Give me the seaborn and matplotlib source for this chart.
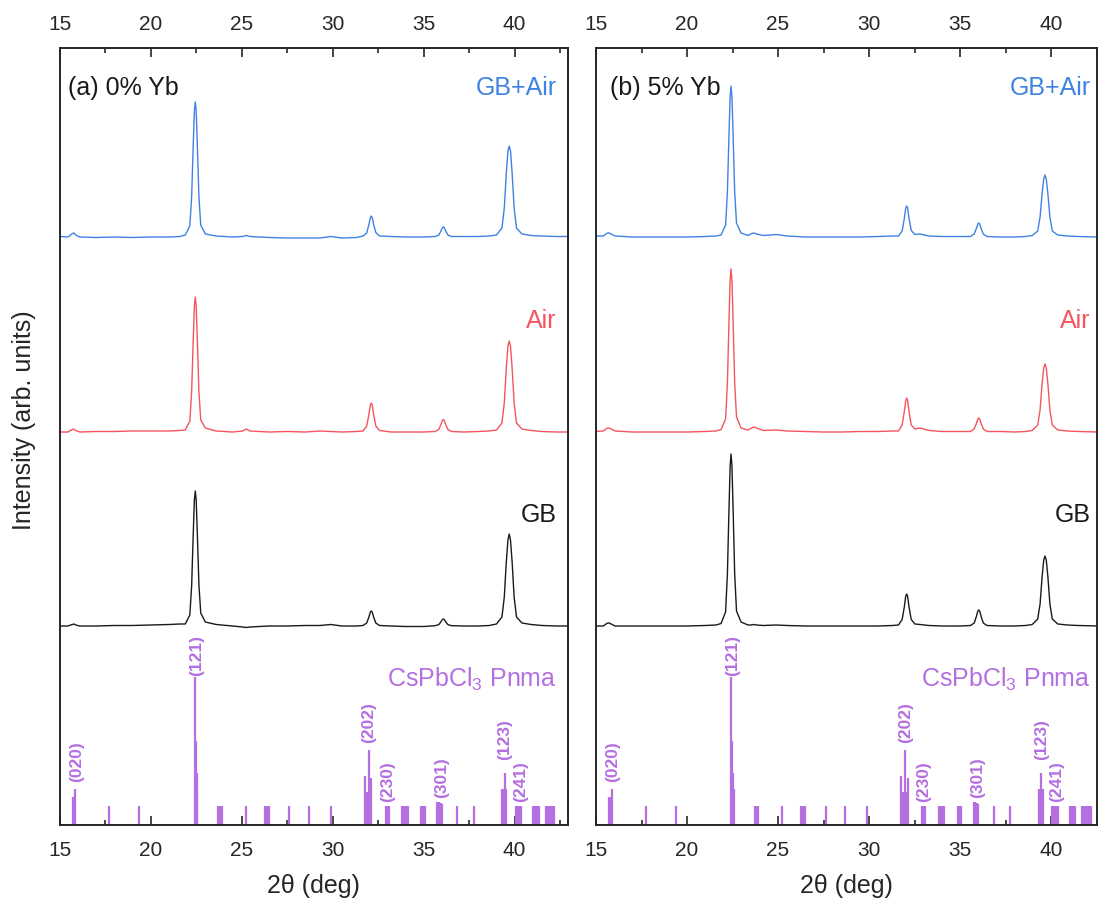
import matplotlib
matplotlib.use("Agg")
import matplotlib.pyplot as plt
from matplotlib.ticker import MultipleLocator
import seaborn as sns
import pandas as pd

# ----------------------------
# Data (intensities in arb. units above each baseline)
# ----------------------------
SAMPLES = ["GB", "Air", "GB+Air"]

# panel (a) 0% Yb
deg_a = [15.0, 15.45, 15.6, 15.7, 15.78, 15.88, 16.1, 17.0, 18.0, 19.0, 20.0, 21.0, 21.6,
         21.9, 22.15, 22.25, 22.33, 22.40, 22.45, 22.50, 22.57, 22.65, 22.75, 23.0,
         23.6, 24.5, 25.05, 25.25, 25.45, 26.5, 27.5, 28.5, 29.3, 29.9, 30.5, 31.3,
         31.67, 31.87, 31.99, 32.07, 32.12, 32.17, 32.25, 32.37, 32.57,
         33.2, 34.0, 35.0,
         35.63, 35.83, 35.95, 36.03, 36.08, 36.13, 36.21, 36.33, 36.53,
         37.2, 38.0, 38.6,
         39.0, 39.3, 39.43, 39.54, 39.63, 39.7, 39.77, 39.86, 39.97, 40.1, 40.4,
         40.9, 41.5, 42.3, 43.0]
gbair_a = [0.5, 0, 2, 3.5, 4, 2, 0, -0.5, 0, -0.5, 0, 0, 0.5,
           2, 11, 40, 88, 126, 135, 126, 88, 40, 12, 3,
           1, 0, 0.5, 1.5, 0.5, -0.5, -1, -1, -1, 0.5, -1, -0.5,
           1, 4, 12.5, 19.5, 21, 19.5, 12.5, 4.5, 1,
           0.5, 0, 0,
           0.5, 2, 6, 9.3, 10, 9.3, 6, 2, 0.5,
           0.5, 0.5, 1,
           2, 9, 29, 64, 86, 91, 86, 64, 29, 9, 3,
           1.5, 1, 0.5, 0.5]
air_a = [0, 0, 1.5, 2.5, 3, 1.5, 0, 0.5, 0.5, 1, 1, 1, 1.5,
         2, 11, 40, 88, 126, 135, 126, 88, 40, 12, 4,
         1, 0, 1, 3, 1, 0, 0.5, 0, 1, 0.5, 0, 0.5,
         1, 6, 17.5, 27, 29, 27, 17.5, 6, 1.5,
         0, 0, 0,
         0.5, 2.5, 7.5, 11.6, 12.5, 11.6, 7.5, 2.5, 0.5,
         0, 0.5, 1,
         2, 9, 29, 64, 86, 91, 86, 64, 29, 9, 3,
         1.5, 0.5, 0, 0]
gb_a = [0, 0, 1, 1.5, 2, 1, 0, 0, 0.5, 0.5, 1, 1.5, 2,
        2, 11, 40, 88, 126, 135, 126, 88, 41, 13, 4,
        1.5, 0, -1, -1.5, -1, 0, 0, 0.5, 0.5, 1.5, 0, 0,
        0.5, 3, 9, 14, 15, 14, 9, 3, 0.5,
        0, -0.5, -0.5,
        0.3, 1.4, 4.2, 6.5, 7, 6.5, 4.2, 1.4, 0.3,
        0, 0, 0.5,
        2, 9, 29, 64, 86, 92, 86, 64, 29, 9, 3,
        1.5, 0.5, 0, 0]

# panel (b) 5% Yb
deg_b = [15.0, 15.4, 15.55, 15.65, 15.73, 15.83, 16.05, 17.0, 18.0, 19.0, 20.0, 21.0, 21.6,
         21.87, 22.12, 22.22, 22.30, 22.37, 22.42, 22.47, 22.54, 22.62, 22.72, 22.97,
         23.35, 23.55, 23.68, 23.82, 24.2, 24.9, 25.5, 26.5, 27.5, 28.5, 29.5, 30.5, 31.3,
         31.62, 31.82, 31.94, 32.02, 32.07, 32.12, 32.20, 32.32, 32.52,
         32.8, 33.3, 34.0, 35.0,
         35.58, 35.78, 35.90, 35.98, 36.03, 36.08, 36.16, 36.28, 36.48,
         37.2, 38.0, 38.6,
         38.97, 39.27, 39.40, 39.51, 39.60, 39.67, 39.74, 39.83, 39.94, 40.07, 40.37,
         40.9, 41.5, 42.55]
gbair_b = [1, 1, 3, 4, 4, 3, 1, 0, 0, 0, 0, 0.5, 1,
           2, 12, 45, 98, 140, 151, 140, 98, 45, 14, 4,
           1.5, 3.5, 4, 3, 1.5, 2.5, 1, 0, 0, 0, 0, 0.5, 1,
           1, 6, 18.5, 29, 31, 29, 18.5, 6.5, 2.5,
           3, 1, 0.5, 0.5,
           0.5, 3, 8.5, 13, 14, 13, 8.5, 3, 0.5,
           0, 0, 0.5,
           1.5, 6, 20, 43, 58, 62, 58, 43, 20, 6, 2,
           1, 0.5, 0]
air_b = [0.5, 1, 3, 4, 4, 3, 1, 0, 0, 0, 0, 0.5, 1,
         2.5, 13, 49, 106, 152, 163, 152, 106, 49, 15, 4,
         2, 4, 5, 4, 1.5, 2, 1, 0.5, 0, 0, 0.5, 0.5, 1,
         1, 7, 20.5, 31.5, 34, 31.5, 20.5, 7, 3,
         4, 1.5, 0.5, 0.5,
         0.5, 3, 8.5, 13, 14, 13, 8.5, 3, 0.5,
         0.5, 0, 0.5,
         1.5, 7, 22, 48, 64, 68, 64, 48, 22, 7, 2,
         1, 0.5, 0]
gb_b = [0, 0, 2, 3, 3, 2, 0, 0, 0, 0, 0, 0.5, 1,
        2.5, 14, 52, 112, 160, 172, 160, 112, 52, 15, 4,
        1, 1, 1.5, 1, 0.5, 1, 0.5, 0, 0, 0, 0, 0, 0.5,
        1, 6.5, 19, 30, 32, 30, 19, 6.5, 2,
        1.5, 0.5, 0, 0,
        0.5, 3, 9.5, 15, 16, 15, 9.5, 3, 0.5,
        0, 0, 0.5,
        1.5, 7, 22, 49, 66, 70, 66, 49, 22, 7, 2,
        1, 0.5, 0]

# CsPbCl3 Pnma reference pattern
stick_pos = [15.72, 15.80, 15.86, 17.73, 19.37, 22.42, 22.47, 22.52, 22.57,
             23.72, 23.81, 23.90, 25.22, 26.28, 26.38, 26.48, 27.62, 28.70, 29.89,
             31.75, 31.82, 31.90, 31.99, 32.05, 32.12, 32.92, 33.01, 33.10,
             33.82, 33.90, 33.98, 34.05, 34.12, 34.87, 34.97, 35.08,
             35.75, 35.82, 35.88, 35.94, 36.00, 36.85, 37.76,
             39.33, 39.40, 39.47, 39.55, 40.08, 40.15, 40.22, 40.29, 40.36,
             41.02, 41.10, 41.18, 41.25, 41.32, 41.73, 41.80, 41.88, 41.95, 42.03, 42.10, 42.18]
stick_h = [28, 28, 36, 19, 19, 148, 84, 52, 36,
           19, 19, 19, 19, 19, 19, 19, 19, 19, 19,
           49, 33, 33, 75, 33, 47, 19, 19, 19,
           19, 19, 19, 19, 19, 19, 19, 19,
           23, 23, 22, 22, 21, 19, 19,
           36, 36, 52, 36, 19, 19, 19, 19, 19,
           19, 19, 19, 19, 19, 19, 19, 19, 19, 19, 19, 19]
hkl_labels = ["(020)", "(121)", "(202)", "(230)", "(301)", "(123)", "(241)"]
hkl_pos = [15.93, 22.50, 32.00, 33.02, 35.99, 39.47, 40.30]
hkl_base = [44, 150, 83, 24, 28, 66, 24]

# ----------------------------
# Style
# ----------------------------
sns.set_style("ticks")
plt.rcParams["font.family"] = ["Liberation Sans", "DejaVu Sans"]
plt.rcParams["mathtext.fontset"] = "custom"
plt.rcParams["mathtext.rm"] = "Liberation Sans"

COLORS = {"GB": "#1a1a1a", "Air": "#f4555e", "GB+Air": "#3f82e4"}
PURPLE = "#b46fe0"
OFFSETS = {"GB": 199, "Air": 393, "GB+Air": 588}


def long_table(deg, series):
    rows = []
    for name, vals in zip(SAMPLES, series):
        for d, v in zip(deg, vals):
            rows.append({"deg": d, "y": v + OFFSETS[name], "sample": name})
    return pd.DataFrame(rows)


fig = plt.figure(figsize=(10.98, 9.03), dpi=100)
W, H = 1098, 903
ax_a = fig.add_axes([59.7 / W, 1 - 826 / H, 508.3 / W, 777 / H])
ax_b = fig.add_axes([596 / W, 1 - 826 / H, 500.5 / W, 777 / H])

panels = [
    (ax_a, long_table(deg_a, [gb_a, air_a, gbair_a]), "(a) 0% Yb", (15, 42.93), 0.017, 0.978),
    (ax_b, long_table(deg_b, [gb_b, air_b, gbair_b]), "(b) 5% Yb", (15, 42.5), 0.028, 0.988),
]

for ax, df, title, xlim, xl, xr in panels:
    sns.lineplot(data=df, x="deg", y="y", hue="sample", palette=COLORS,
                 estimator=None, sort=False, legend=False, lw=1.0, ax=ax)
    ax.vlines(stick_pos, 0, stick_h, color=PURPLE, lw=1.6)
    for lab, p, b in zip(hkl_labels, hkl_pos, hkl_base):
        ax.text(p, b, lab, rotation=90, ha="center", va="bottom",
                color=PURPLE, fontsize=12.5, fontweight="bold")

    ax.set_xlim(*xlim)
    ax.set_ylim(0, 777)
    ax.set_yticks([])
    ax.set_ylabel("")
    ax.set_xlabel("2θ (deg)", fontsize=18, labelpad=10)
    ax.xaxis.set_major_locator(MultipleLocator(5))
    ax.xaxis.set_minor_locator(MultipleLocator(2.5))
    ax.tick_params(axis="x", which="both", direction="in", top=True, bottom=True,
                   labeltop=True, labelsize=15, pad=11, width=1.2)
    ax.tick_params(axis="x", which="major", length=6.5)
    ax.tick_params(axis="x", which="minor", length=3.5)
    for s in ax.spines.values():
        s.set_visible(True)
        s.set_linewidth(1.4)

    ax.text(xl, 0.9408, title, transform=ax.transAxes, fontsize=18, color="#1a1a1a",
            ha="left", va="baseline")
    ax.text(xr, 0.9408, "GB+Air", transform=ax.transAxes, fontsize=18,
            color=COLORS["GB+Air"], ha="right", va="baseline")
    ax.text(xr, 0.641, "Air", transform=ax.transAxes, fontsize=18,
            color=COLORS["Air"], ha="right", va="baseline")
    ax.text(xr, 0.391, "GB", transform=ax.transAxes, fontsize=18,
            color=COLORS["GB"], ha="right", va="baseline")
    ax.text(xr, 0.179, r"CsPbCl$_3$ Pnma", transform=ax.transAxes, fontsize=18,
            color=PURPLE, ha="right", va="baseline")

fig.text(0.022, 0.535, "Intensity (arb. units)", rotation=90, ha="center",
         va="center", fontsize=18)

fig.savefig("out.png", dpi=100)
